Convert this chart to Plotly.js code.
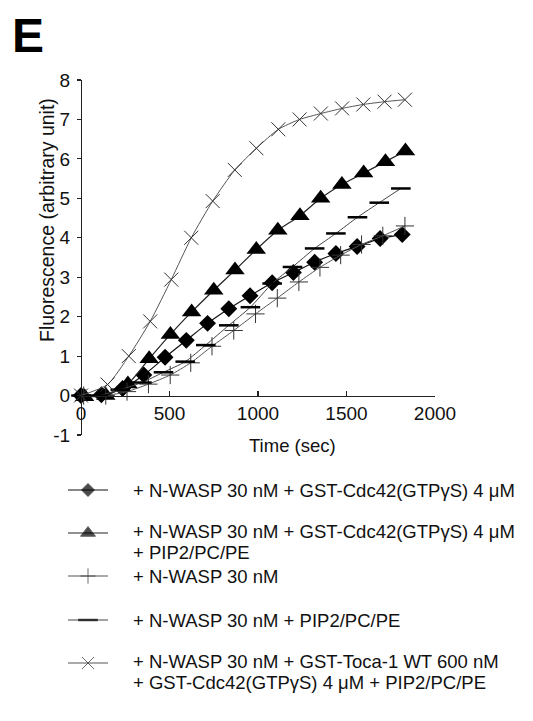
<!DOCTYPE html>
<html><head><meta charset="utf-8">
<script src="https://cdn.plot.ly/plotly-3.0.1.min.js"></script>
<style>html,body{margin:0;padding:0;background:#fff}</style>
</head><body><div id="chart" style="width:533px;height:721px"></div>
<script>
// ---- data ----
const tDiamond = [0, 115, 235, 355, 475, 595, 715, 835, 955, 1080, 1200, 1320, 1440, 1560, 1690, 1815];
const yDiamond = [0, 0.02, 0.18, 0.52, 0.97, 1.40, 1.83, 2.20, 2.53, 2.86, 3.12, 3.38, 3.60, 3.78, 3.98, 4.08];

const tTriangle = [20, 140, 265, 385, 505, 625, 750, 870, 990, 1112, 1237, 1354, 1474, 1597, 1720, 1833];
const yTriangle = [-0.03, 0.0, 0.29, 0.93, 1.55, 2.12, 2.67, 3.18, 3.70, 4.19, 4.56, 5.00, 5.35, 5.64, 5.93, 6.20];

const tPlus = [15, 140, 260, 381, 504, 620, 740, 863, 986, 1109, 1231, 1350, 1467, 1585, 1705, 1830];
const yPlus = [0, 0.0, 0.10, 0.29, 0.52, 0.83, 1.25, 1.65, 2.07, 2.47, 2.88, 3.25, 3.56, 3.83, 4.05, 4.30];

const tDash = [0, 100, 222, 344, 466, 589, 705, 835, 957, 1080, 1195, 1320, 1440, 1562, 1685, 1807];
const yDash = [0, 0.0, 0.15, 0.33, 0.59, 0.86, 1.28, 1.78, 2.24, 2.84, 3.26, 3.73, 4.11, 4.52, 4.89, 5.25];

const tCross = [0, 150, 270, 391, 510, 623, 744, 869, 991, 1115, 1235, 1355, 1475, 1595, 1715, 1830];
const yCross = [0, 0.28, 1.00, 1.88, 2.94, 4.00, 4.93, 5.72, 6.27, 6.75, 7.00, 7.15, 7.28, 7.38, 7.45, 7.50];

const xTickVals = [0, 500, 1000, 1500, 2000];
const yTickVals = [-1, 0, 1, 2, 3, 4, 5, 6, 7, 8];

const legendLines = [
  ["+ N-WASP 30 nM + GST-Cdc42(GTP\u03b3S) 4 \u03bcM"],
  ["+ N-WASP 30 nM + GST-Cdc42(GTP\u03b3S) 4 \u03bcM", "+ PIP2/PC/PE"],
  ["+ N-WASP 30 nM"],
  ["+ N-WASP 30 nM + PIP2/PC/PE"],
  ["+ N-WASP 30 nM + GST-Toca-1 WT 600 nM", "+ GST-Cdc42(GTP\u03b3S) 4 \u03bcM + PIP2/PC/PE"]
];
const panelLabel = "E";
const xTitle = "Time (sec)";
const yTitle = "Fluorescence (arbitrary unit)";

// ---- styling / layout ----
const W = 533, H = 721;
const FONT = "Liberation Sans, Arial, Helvetica, sans-serif";
const plotL = 81, plotR = 435, plotT = 80, plotB = 435;
const xr = [0, 2000], yr = [-1, 8];
const yDom = [1 - plotB / H, 1 - plotT / H];
const xDom = [plotL / W, plotR / W];
const yZeroPaper = yDom[0] + (0 - yr[0]) / (yr[1] - yr[0]) * (yDom[1] - yDom[0]);

const styles = [
  {t: tDiamond, y: yDiamond, line: {color: '#111', width: 1.2}, marker: {symbol: 'diamond', size: 13, color: '#000'}, lg: {symbol: 'diamond', size: 10, color: '#000'}},
  {t: tTriangle, y: yTriangle, line: {color: '#222', width: 1.2}, marker: {symbol: 'triangle-up', size: 17, color: '#000'}, lg: {symbol: 'triangle-up', size: 13, color: '#000'}},
  {t: tPlus, y: yPlus, line: {color: '#555', width: 1}, marker: {symbol: 'cross-thin', size: 13, color: '#333', line: {width: 1, color: '#333'}}, lg: {symbol: 'cross-thin', size: 11, color: '#333', line: {width: 1, color: '#333'}}},
  {t: tDash, y: yDash, line: {color: '#444', width: 1}, marker: {symbol: 'line-ew', size: 14, color: '#000', line: {width: 2.5, color: '#000'}}, lg: {symbol: 'line-ew', size: 14, color: '#000', line: {width: 2.5, color: '#000'}}},
  {t: tCross, y: yCross, line: {color: '#555', width: 1}, marker: {symbol: 'x-thin', size: 14, color: '#333', line: {width: 1, color: '#333'}}, lg: {symbol: 'x-thin', size: 12, color: '#333', line: {width: 1, color: '#333'}}}
];

const traces = [];
styles.forEach(s => {
  traces.push({
    x: s.t, y: s.y, type: 'scatter', mode: 'lines+markers',
    line: Object.assign({shape: 'spline', smoothing: 0.6}, s.line),
    marker: s.marker, cliponaxis: false, showlegend: false, hoverinfo: 'skip'
  });
});

// legend samples drawn on an overlay pixel-coordinate axis
const rowY = [490, 533, 576, 620, 663];
const lineStep = 21;
const annotations = [];
styles.forEach((s, i) => {
  const r = rowY[i];
  traces.push({
    x: [68, 88, 108], y: [r, r, r], xaxis: 'x2', yaxis: 'y2', type: 'scatter', mode: 'lines+markers',
    line: {color: s.line.color, width: 1},
    marker: Object.assign({}, s.lg, {size: [0, s.lg.size, 0]}),
    cliponaxis: false, showlegend: false, hoverinfo: 'skip'
  });
  const n = legendLines[i].length;
  legendLines[i].forEach((txt, k) => {
    const yy = n > 1 ? r - 1.5 + k * lineStep : r;
    annotations.push({
      x: 131 / W, y: 1 - yy / H, xref: 'paper', yref: 'paper',
      xanchor: 'left', yanchor: 'middle', showarrow: false, text: txt,
      font: {family: FONT, size: 18.5, color: '#111'}
    });
  });
});

annotations.push({x: 10 / W, y: 1 - 36 / H, xref: 'paper', yref: 'paper', xanchor: 'left', yanchor: 'middle',
  showarrow: false, text: '<b>' + panelLabel + '</b>', font: {family: FONT, size: 48, color: '#000'}});
annotations.push({x: 47 / W, y: 1 - 220 / H, xref: 'paper', yref: 'paper', xanchor: 'center', yanchor: 'middle',
  showarrow: false, textangle: -90, text: yTitle, font: {family: FONT, size: 19.5, color: '#111'}});
annotations.push({x: 292 / W, y: 1 - 446 / H, xref: 'paper', yref: 'paper', xanchor: 'center', yanchor: 'middle',
  showarrow: false, text: xTitle, font: {family: FONT, size: 18.5, color: '#111'}});

const layout = {
  width: W, height: H,
  margin: {l: 0, r: 0, t: 0, b: 0},
  paper_bgcolor: '#fff', plot_bgcolor: 'rgba(0,0,0,0)',
  showlegend: false,
  xaxis: {
    domain: xDom, range: xr, anchor: 'free', position: yZeroPaper,
    showline: true, linecolor: '#222', linewidth: 1.3, zeroline: false, showgrid: false,
    ticks: 'inside', ticklen: 5, tickwidth: 1.2, tickcolor: '#222',
    tickvals: xTickVals, ticktext: xTickVals.map(String), ticklabelstandoff: 0,
    tickfont: {family: FONT, size: 19, color: '#111'}
  },
  yaxis: {
    domain: yDom, range: yr, anchor: 'free', position: xDom[0],
    showline: true, linecolor: '#222', linewidth: 1.3, zeroline: false, showgrid: false,
    ticks: 'outside', ticklen: 4, tickwidth: 1.2, tickcolor: '#222', ticklabelstandoff: 3,
    tickvals: yTickVals, ticktext: yTickVals.map(String),
    tickfont: {family: FONT, size: 19, color: '#111'}
  },
  xaxis2: {domain: [0, 1], range: [0, W], anchor: 'y2', visible: false, fixedrange: true},
  yaxis2: {domain: [0, 1], range: [H, 0], anchor: 'x2', visible: false, fixedrange: true},
  annotations: annotations
};

Plotly.newPlot('chart', traces, layout, {staticPlot: true, displayModeBar: false});
</script>
</body></html>
